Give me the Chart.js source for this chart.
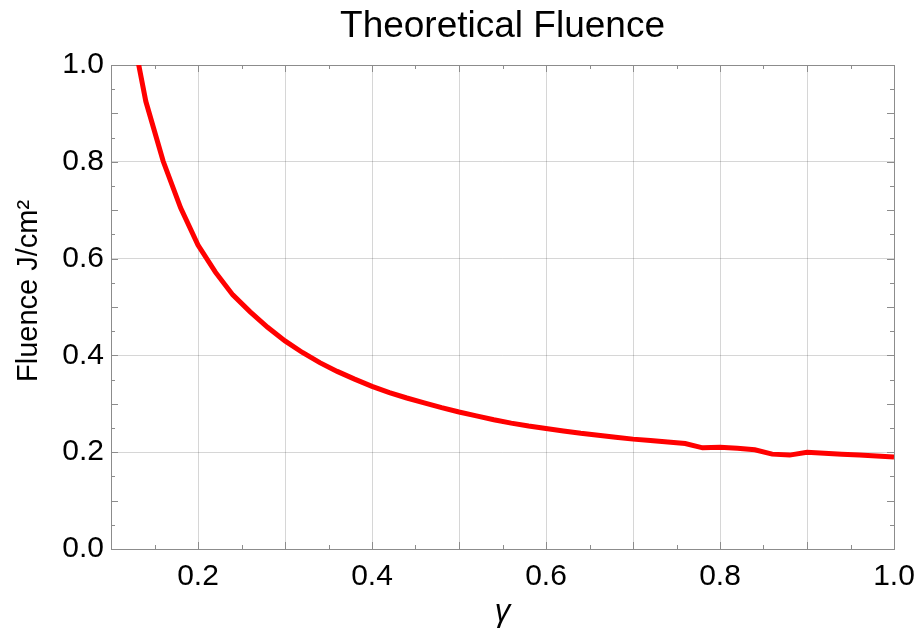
<!DOCTYPE html>
<html>
<head>
<meta charset="utf-8">
<script src="https://cdn.jsdelivr.net/npm/chart.js@4"></script>
<style>
  html, body { margin: 0; padding: 0; background: #fff; }
</style>
</head>
<body>
<canvas id="fluenceChart" width="918" height="639"></canvas>
<script>
const gammaValues = [0.12, 0.14, 0.16, 0.18, 0.20, 0.22, 0.24, 0.26, 0.28, 0.30,
  0.32, 0.34, 0.36, 0.38, 0.40, 0.42, 0.44, 0.46, 0.48, 0.50,
  0.52, 0.54, 0.56, 0.58, 0.60, 0.62, 0.64, 0.66, 0.68, 0.70,
  0.72, 0.74, 0.76, 0.78, 0.80, 0.82, 0.84, 0.86, 0.88, 0.90,
  0.92, 0.94, 0.96, 0.98, 1.00];
const fluenceValues = [1.11, 0.925, 0.801, 0.705, 0.628, 0.572, 0.525, 0.490, 0.458, 0.430,
  0.406, 0.385, 0.367, 0.351, 0.336, 0.323, 0.312, 0.302, 0.292, 0.283,
  0.275, 0.267, 0.260, 0.254, 0.249, 0.244, 0.239, 0.235, 0.231, 0.227,
  0.224, 0.221, 0.218, 0.209, 0.210, 0.208, 0.205, 0.196, 0.194, 0.200,
  0.198, 0.196, 0.194, 0.192, 0.190];
const xTickLabels = ['0.2', '0.4', '0.6', '0.8', '1.0'];
const yTickLabels = ['0.0', '0.2', '0.4', '0.6', '0.8', '1.0'];

const fontFamily = '"Liberation Sans", Arial, sans-serif';
const frameColor = '#8c8c8c';
const gridColor = 'rgba(0,0,0,0.16)';

function isMultiple(v, step) {
  const r = v / step;
  return Math.abs(r - Math.round(r)) < 1e-6;
}

// frame box plus the small inward ticks on all four sides
const frameTicks = {
  id: 'frameTicks',
  beforeDatasetsDraw(chart) {
    const { ctx, chartArea: a, scales: { x, y } } = chart;
    ctx.save();
    ctx.strokeStyle = frameColor;
    ctx.lineWidth = 1;
    ctx.beginPath();
    x.ticks.forEach(t => {
      const px = Math.round(x.getPixelForValue(t.value)) + 0.5;
      const len = isMultiple(t.value, 0.1) ? 7 : 4;
      ctx.moveTo(px, a.bottom); ctx.lineTo(px, a.bottom - len);
      ctx.moveTo(px, a.top); ctx.lineTo(px, a.top + len);
    });
    y.ticks.forEach(t => {
      const py = Math.round(y.getPixelForValue(t.value)) + 0.5;
      const len = isMultiple(t.value, 0.1) ? 7 : 4;
      ctx.moveTo(a.left, py); ctx.lineTo(a.left + len, py);
      ctx.moveTo(a.right, py); ctx.lineTo(a.right - len, py);
    });
    ctx.stroke();
    ctx.strokeRect(Math.round(a.left) + 0.5, Math.round(a.top) + 0.5,
      Math.round(a.right - a.left), Math.round(a.bottom - a.top));
    ctx.restore();
  }
};

const ctx = document.getElementById('fluenceChart').getContext('2d');
new Chart(ctx, {
  type: 'line',
  data: {
    datasets: [{
      data: gammaValues.map((g, i) => ({ x: g, y: fluenceValues[i] })),
      borderColor: '#ff0000',
      borderWidth: 5,
      pointRadius: 0,
      tension: 0,
      fill: false,
      clip: 0
    }]
  },
  options: {
    responsive: false,
    animation: false,
    layout: { padding: { left: 0, right: 24, top: 0, bottom: 0 } },
    plugins: {
      legend: { display: false },
      tooltip: { enabled: false },
      title: {
        display: true,
        text: 'Theoretical Fluence',
        fullSize: false,
        color: '#000',
        font: { family: fontFamily, size: 37, weight: 'normal' },
        padding: { top: 5, bottom: 15.6 }
      }
    },
    scales: {
      x: {
        type: 'linear',
        min: 0.1,
        max: 1.0,
        ticks: {
          stepSize: 0.05,
          autoSkip: false,
          maxRotation: 0,
          padding: 10,
          color: '#000',
          font: { family: fontFamily, size: 30 },
          callback: v => xTickLabels.includes(v.toFixed(1)) && isMultiple(v, 0.2) ? v.toFixed(1) : ''
        },
        grid: {
          drawTicks: false,
          color: c => (c.tick && isMultiple(c.tick.value, 0.1)) ? gridColor : 'rgba(0,0,0,0)'
        },
        border: { display: false },
        title: {
          display: true,
          text: 'γ',
          color: '#000',
          font: { family: fontFamily, size: 31, style: 'italic' },
          padding: { top: 0, bottom: 8 }
        },
        afterFit: s => {
          s.height = 90;
          s.paddingLeft = 0;
          s.paddingRight = 0;
        }
      },
      y: {
        type: 'linear',
        min: 0,
        max: 1.0,
        ticks: {
          stepSize: 0.05,
          autoSkip: false,
          padding: 7,
          color: '#000',
          font: { family: fontFamily, size: 30 },
          callback: v => yTickLabels.includes(v.toFixed(1)) && isMultiple(v, 0.2) ? v.toFixed(1) : ''
        },
        grid: {
          drawTicks: false,
          color: c => (c.tick && isMultiple(c.tick.value, 0.2)) ? gridColor : 'rgba(0,0,0,0)'
        },
        border: { display: false },
        title: {
          display: true,
          text: '    Fluence J/cm²',
          color: '#000',
          font: { family: fontFamily, size: 29 },
          padding: { top: 12, bottom: 0 }
        },
        afterFit: s => { s.width = 111; }
      }
    }
  },
  plugins: [frameTicks]
});
</script>
</body>
</html>
